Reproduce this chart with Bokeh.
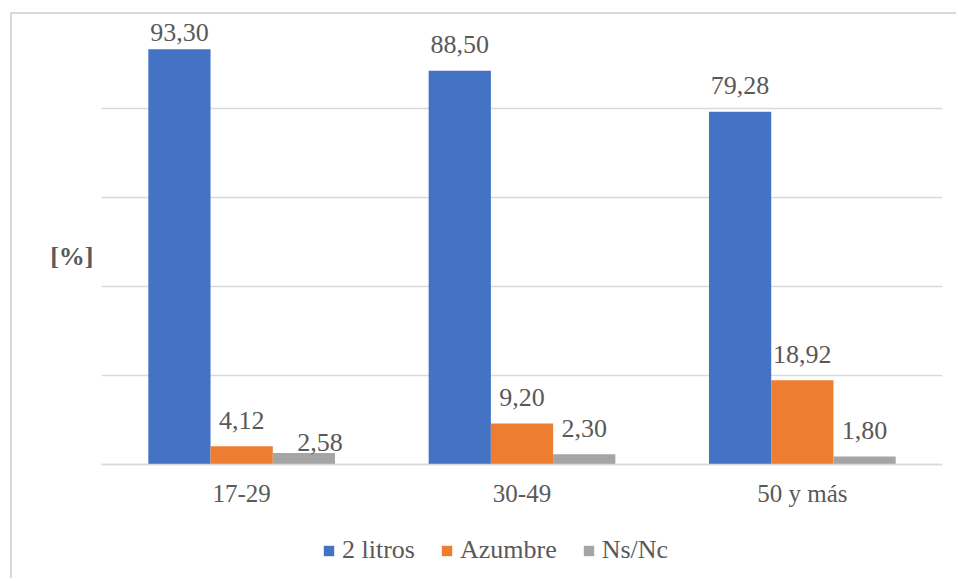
from bokeh.plotting import figure
from bokeh.models import ColumnDataSource, FixedTicker, Legend, LegendItem, Range1d
from bokeh.transform import dodge
from bokeh.core.properties import value
from bokeh.embed import file_html
from bokeh.resources import INLINE

categories = ["17-29", "30-49", "50 y más"]
litros2 = [93.30, 88.50, 79.28]
azumbre = [4.12, 9.20, 18.92]
nsnc = [2.58, 2.30, 1.80]
series_names = ["2 litros", "Azumbre", "Ns/Nc"]
y_ticks = [0, 20, 40, 60, 80]

colors = ["#4472C4", "#ED7D31", "#A5A5A5"]
FONT = "Liberation Serif"
TXT = "#595959"
GRID = "#d9d9d9"

# label nudges (screen px) to mimic the reference's collision handling
label_dy = [[-17, -26, -26], [-26, -26, -26], [-11, -26, -26]]
label_dx = [[0, 0, 0], [0, 0, 0], [16, 0, 0]]

# frame extends below the baseline to host category labels and legend
p = figure(x_range=categories, y_range=Range1d(-26.07, 100), width=946, height=566,
           output_backend="svg", toolbar_location=None,
           min_border_left=89, min_border_right=16, min_border_top=5, min_border_bottom=0)
p.styles = {"border-left": f"2px solid {GRID}", "border-top": f"2px solid {GRID}",
            "margin-left": "10px", "margin-top": "12px"}
p.outline_line_color = None
p.background_fill_color = "white"
p.border_fill_color = "white"

bw = 0.222
offsets = [-bw, 0.0, bw]
all_series = [litros2, azumbre, nsnc]
renderers = []
for i, (vals, name, col) in enumerate(zip(all_series, series_names, colors)):
    src = ColumnDataSource(dict(
        cat=categories, val=vals,
        lab=[f"{v:.2f}".replace(".", ",") for v in vals],
        dy=label_dy[i], dx=label_dx[i]))
    r = p.vbar(x=dodge("cat", offsets[i], range=p.x_range), top="val", width=bw,
               source=src, fill_color=col, line_color=None)
    renderers.append((name, r))
    p.text(x=dodge("cat", offsets[i], range=p.x_range), y="val", text="lab",
           x_offset="dx", y_offset="dy", source=src,
           text_align="center", text_baseline="alphabetic",
           text_font=value(FONT), text_font_size="26px", text_color=TXT)

# y axis: only the horizontal "[%]" label
p.yaxis.ticker = FixedTicker(ticks=[])
p.yaxis.axis_line_color = None
p.yaxis.major_tick_line_color = None
p.yaxis.minor_tick_line_color = None
p.yaxis.axis_label = "[%]\n\n"
p.yaxis.axis_label_orientation = "horizontal"
p.yaxis.axis_label_text_font = FONT
p.yaxis.axis_label_text_font_size = "26px"
p.yaxis.axis_label_text_font_style = "bold"
p.yaxis.axis_label_text_color = TXT
p.yaxis.axis_label_text_baseline = "middle"
p.yaxis.axis_label_text_line_height = 1.5
p.yaxis.axis_label_standoff = 8

p.ygrid.ticker = FixedTicker(ticks=y_ticks)
p.ygrid.grid_line_color = GRID
p.ygrid.grid_line_width = 1.5
p.xgrid.grid_line_color = None

p.xaxis.fixed_location = 0
p.xaxis.axis_line_color = GRID
p.xaxis.axis_line_width = 1.5
p.xaxis.major_tick_line_color = None
p.xaxis.minor_tick_line_color = None
p.xaxis.major_label_text_font = FONT
p.xaxis.major_label_text_font_size = "25px"
p.xaxis.major_label_text_color = TXT
p.xaxis.major_label_standoff = 10

legend = Legend(items=[LegendItem(label=n, renderers=[r]) for n, r in renderers],
                orientation="horizontal", location=(221, 15),
                glyph_width=13, glyph_height=13, label_standoff=7, spacing=25,
                label_text_font=FONT, label_text_font_size="26px", label_text_color=TXT,
                border_line_color=None, background_fill_alpha=0, padding=0, margin=0)
p.add_layout(legend, "center")

open("out.html", "w").write(file_html(p, INLINE))
